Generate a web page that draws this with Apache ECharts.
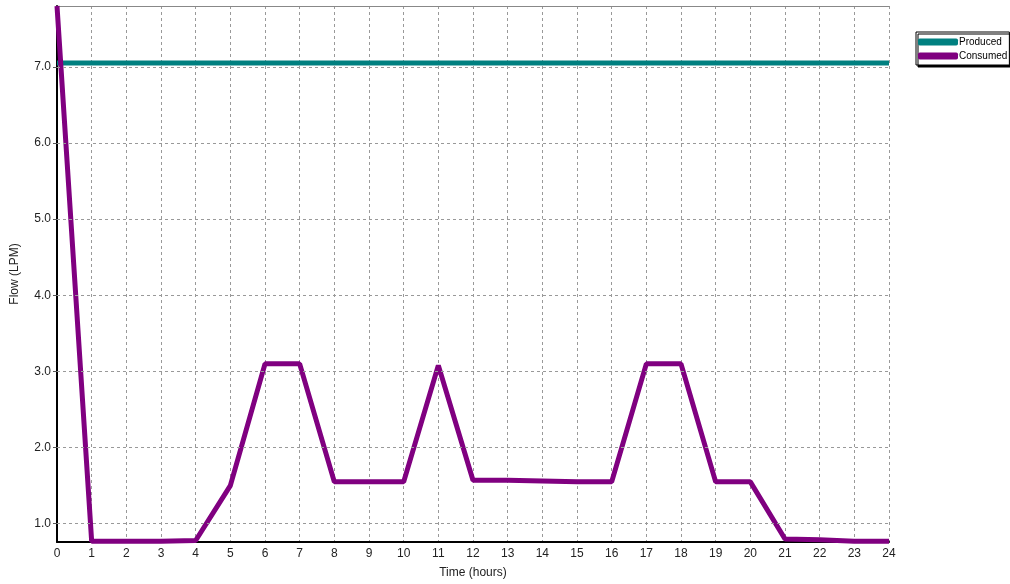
<!DOCTYPE html>
<html><head><meta charset="utf-8">
<script src="https://cdn.jsdelivr.net/npm/echarts@6/dist/echarts.min.js"></script>
<style>html,body{margin:0;padding:0;background:#fff}#c{width:1010px;height:584px}</style>
</head><body><div id="c"></div>
<script>
const hours = ['0','1','2','3','4','5','6','7','8','9','10','11','12','13','14','15','16','17','18','19','20','21','22','23','24'];
const produced = [7.05,7.05,7.05,7.05,7.05,7.05,7.05,7.05,7.05,7.05,7.05,7.05,7.05,7.05,7.05,7.05,7.05,7.05,7.05,7.05,7.05,7.05,7.05,7.05,7.05];
const consumed = [7.8,0.77,0.77,0.77,0.78,1.5,3.1,3.1,1.55,1.55,1.55,3.08,1.57,1.57,1.56,1.55,1.55,3.1,3.1,1.55,1.55,0.8,0.79,0.77,0.77];
const yTicks = [1,2,3,4,5,6,7];
const seriesNames = ['Produced','Consumed'];

const chart = echarts.init(document.getElementById('c'), null, {renderer:'canvas'});
const font = 'Liberation Sans, Arial, sans-serif';
chart.setOption({
  animation:false,
  textStyle:{fontFamily:font},
  grid:{left:57,right:121,top:6,bottom:42,containLabel:false},
  legend:{
    orient:'vertical', left:916, top:32,
    data:seriesNames,
    icon:'roundRect', itemWidth:40, itemHeight:7, itemGap:4,
    padding:[5,2,4,2],
    borderColor:'#000', borderWidth:1,
    backgroundColor:'#fff',
    shadowColor:'#000', shadowBlur:0, shadowOffsetX:2, shadowOffsetY:2,
    textStyle:{fontSize:10,color:'#000',fontFamily:font,padding:[0,0,0,-4]}
  },
  xAxis:[{
    type:'value', min:0, max:24, interval:1,
    name:'Time (hours)', nameLocation:'middle', nameGap:25,
    nameTextStyle:{fontSize:12,color:'#222',fontFamily:font},
    axisLine:{lineStyle:{color:'#000',width:2}},
    axisTick:{show:false},
    axisLabel:{fontSize:12,color:'#222',margin:6,fontFamily:font},
    splitLine:{show:true,lineStyle:{color:'#999',type:[3,3],width:1}}
  },{
    type:'value', position:'top', min:0, max:24,
    axisLine:{show:true,lineStyle:{color:'#888',width:1}},
    axisTick:{show:false}, axisLabel:{show:false}, splitLine:{show:false}
  }],
  yAxis:{
    type:'value', min:0.76, max:7.8,
    name:'Flow (LPM)', nameLocation:'middle', nameGap:36,
    nameTextStyle:{fontSize:12,color:'#222',fontFamily:font},
    axisLine:{show:true,lineStyle:{color:'#000',width:2}},
    axisTick:{show:true,length:4,lineStyle:{color:'#555'},customValues:yTicks},
    axisLabel:{fontSize:12,color:'#222',margin:6,customValues:yTicks,
      formatter:v=>v.toFixed(1),fontFamily:font},
    splitLine:{show:false}
  },
  series:[
    {name:'grid',type:'line',data:[],z:1,
     markLine:{silent:true,symbol:'none',label:{show:false},animation:false,
       lineStyle:{color:'#999',type:[3,3],width:1},
       data:yTicks.map(v=>({yAxis:v}))}},
    {name:seriesNames[0],type:'line',data:hours.map((h,i)=>[+h,produced[i]]),
     symbol:'none',lineStyle:{color:'#008080',width:5},itemStyle:{color:'#008080'},clip:true,z:3},
    {name:seriesNames[1],type:'line',data:hours.map((h,i)=>[+h,consumed[i]]),
     symbol:'none',lineStyle:{color:'#800080',width:5},itemStyle:{color:'#800080'},clip:true,z:4}
  ]
});
</script></body></html>
